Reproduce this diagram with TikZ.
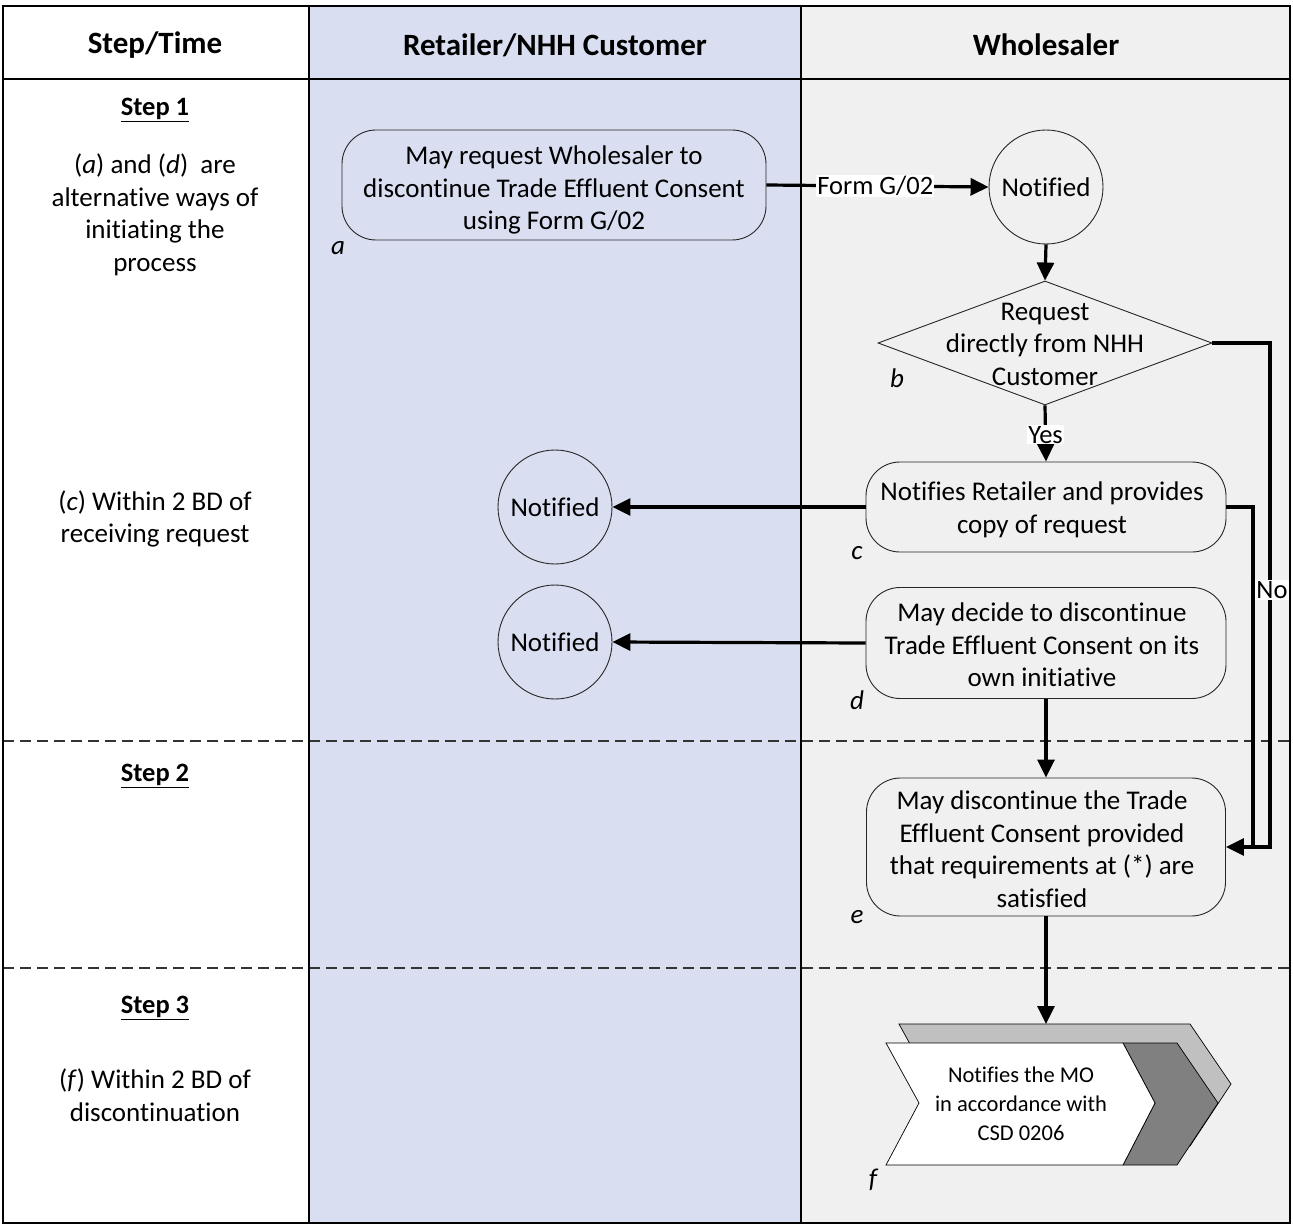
\documentclass[tikz,border=0pt]{standalone}
\usepackage{fontspec}
\setmainfont{Carlito}[Ligatures=NoCommon]
\usetikzlibrary{shapes.geometric,arrows.meta}
\definecolor{laneblue}{RGB}{217,223,241}
\definecolor{lanegray}{RGB}{240,240,240}
\definecolor{chevdark}{RGB}{128,128,128}
\definecolor{chevlight}{RGB}{192,192,192}
\begin{document}
\begin{tikzpicture}[x=1pt,y=-1pt,
  txt/.style={font=\fontsize{27}{32.5}\selectfont, align=center, text=black},
  head/.style={font=\fontsize{31}{34}\selectfont\bfseries},
  steplab/.style={font=\fontsize{26.5}{30}\selectfont\bfseries},
  proc/.style={draw=black!85, line width=0.9pt, rounded corners=34pt, inner sep=0pt},
  circ/.style={circle, draw=black!85, line width=0.9pt, minimum size=114pt, inner sep=0pt, txt},
  flow/.style={line width=3.2pt, -{Triangle[length=18pt,width=17pt]}},
  plain/.style={line width=3.2pt},
  lab/.style={font=\fontsize{27}{30}\selectfont\itshape},
  onlabel/.style={fill=white, inner sep=1pt, font=\fontsize{26.5}{30}\selectfont},
  frame/.style={line width=2pt, black},
  sep/.style={line width=1.2pt, black!80, dash pattern=on 11pt off 6pt}
]
\useasboundingbox (0,0) rectangle (1293,1225);
% lanes
\fill[laneblue] (309,6) rectangle (801,1223);
\fill[lanegray] (801,6) rectangle (1290,1223);
% separators
\draw[sep] (3,741) -- (1290,741);
\draw[sep] (3,968) -- (1290,968);
% frame
\draw[frame] (3,6) rectangle (1290,1223);
\draw[frame] (3,79) -- (1290,79);
\draw[frame] (309,6) -- (309,1223);
\draw[frame] (801,6) -- (801,1223);
% headers
\node[head] (h1) at (155,45) {Step/Time};
\node[head] (h2) at (555,45) {Retailer/NHH Customer};
\node[head] (h3) at (1046,45) {Wholesaler};
% left column
\node[steplab] (s1) at (155,110) {\underline{Step 1}};
\node[txt] (t1) at (155,215) {(\textit{a}) and (\textit{d})\ \ are\\alternative ways of\\initiating the\\process};
\node[txt] (t2) at (155,519) {(\textit{c}) Within 2 BD of\\receiving request};
\node[steplab] (s2) at (155,776) {\underline{Step 2}};
\node[steplab] (s3) at (155,1008) {\underline{Step 3}};
\node[txt] (t3) at (155,1095) {(\textit{f}) Within 2 BD of\\discontinuation};
% process nodes
\node[proc, minimum width=424pt, minimum height=110pt] (a) at (554,185) {};
\node[txt] (at) at (554,190) {May request Wholesaler to\\discontinue Trade Effluent Consent\\using Form G/02};
\node[lab] (la) at (338,248) {a};
\node[circ] (n1) at (1046,187) {Notified};
\node[diamond, draw=black!85, line width=0.9pt, minimum width=334pt, minimum height=124pt, inner sep=0pt] (b) at (1045,343) {};
\node[txt] (bt) at (1045,344) {Request\\directly from NHH\\Customer};
\node[lab] (lb) at (897,378) {b};
\node[proc, minimum width=360pt, minimum height=90pt] (c) at (1046,507) {};
\node[txt] (ct) at (1042,510) {Notifies Retailer and provides\\copy of request};
\node[lab] (lc) at (857,553) {c};
\node[circ] (n2) at (555,507) {Notified};
\node[proc, minimum width=360pt, minimum height=111pt] (d) at (1046,643) {};
\node[txt] (dt) at (1042,645) {May decide to discontinue\\Trade Effluent Consent on its\\own initiative};
\node[lab] (ld) at (857,700) {d};
\node[circ] (n3) at (555,642) {Notified};
\node[proc, minimum width=359pt, minimum height=138pt] (e) at (1046,847) {};
\node[txt] (et) at (1042,849) {May discontinue the Trade\\Effluent Consent provided\\that requirements at (*) are\\satisfied};
\node[lab] (le) at (857,917) {e};
% chevron f
\fill[chevlight, draw=black, line width=0.7pt] (899,1024) -- (1190,1024) -- (1231,1084) -- (1190,1146) -- (899,1146) -- (932,1084) -- cycle;
\fill[chevdark, draw=black, line width=0.7pt] (1123,1043) -- (1177,1043) -- (1218,1103) -- (1177,1165) -- (1123,1165) -- (1155,1103) -- cycle;
\fill[white, draw=black, line width=0.7pt] (886,1043) -- (1123,1043) -- (1155,1103) -- (1123,1165) -- (886,1165) -- (919,1103) -- cycle;
\node[font=\fontsize{22.5}{29}\selectfont, align=center] (f) at (1021,1104) {Notifies the MO\\in accordance with\\CSD 0206};
\coordinate (ftop) at (1046,1024);
\node[lab] (lf) at (873,1180) {f};
% connectors
\draw[flow] (a.east) -- node[onlabel, pos=0.49] {Form G/02} (n1.west);
\draw[flow] (n1.south) -- (b.north);
\draw[flow] (b.south) -- node[onlabel, pos=0.52] {Yes} (c.north);
\draw[flow] (c.west) -- (n2.east);
\draw[flow] (d.west) -- (n3.east);
\draw[flow] (d.south) -- (e.north);
\draw[flow] (e.south) -- (ftop);
\coordinate (cj) at (1253,507);
\coordinate (bj) at (1270,343);
\draw[plain] (c.east) -- (cj) -- (cj |- e.east);
\draw[plain] (b.east) -- (bj) -- node[onlabel, pos=0.49, anchor=center, xshift=2pt] {No} (bj |- e.east) -- (cj |- e.east);
\draw[flow] (cj |- e.east) -- (e.east);
\end{tikzpicture}
\end{document}
